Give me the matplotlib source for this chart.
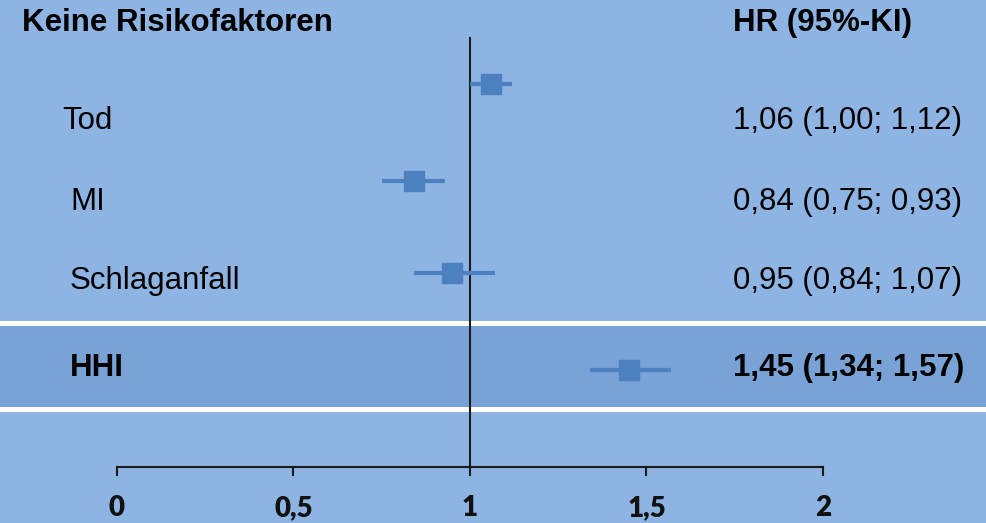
import matplotlib.pyplot as plt

# forest plot data
labels = ['Tod', 'MI', 'Schlaganfall', 'HHI']
hr = [1.06, 0.84, 0.95, 1.45]
ci_lo = [1.00, 0.75, 0.84, 1.34]
ci_hi = [1.12, 0.93, 1.07, 1.57]
ticks = [0, 0.5, 1, 1.5, 2]
tick_labels = ['0', '0,5', '1', '1,5', '2']

# row layout (pixel rows, top = 0)
marker_y = [84, 181, 273, 370]
text_y = [121, 202, 281, 368]
label_x = [62, 70, 70, 70]
bold = [False, False, False, True]

bg = '#8DB4E2'
band = '#79A2D6'
mark = '#4D80BF'

def fmt(v):
    return f'{v:.2f}'.replace('.', ',')

def px(x):
    return (x - 117) / 353

fig = plt.figure(figsize=(9.87, 5.23), dpi=100, facecolor=bg)
ax = fig.add_axes([0, 0, 1, 1])
ax.set_facecolor(bg)
ax.set_xlim(px(0), px(987))
ax.set_ylim(523, 0)
ax.axis('off')

# highlighted HHI band with white separators
ax.axhspan(325, 406, color=band, zorder=0)
ax.axhline(322.5, color='white', lw=3.6, zorder=1)
ax.axhline(408.5, color='white', lw=3.6, zorder=1)

# reference line at 1 and x axis
ax.plot([1, 1], [38, 467], color='#1a1a1a', lw=1.5, zorder=2)
ax.plot([0, 2], [467, 467], color='#1a1a1a', lw=1.5, zorder=2)
for t, tl in zip(ticks, tick_labels):
    ax.plot([t, t], [467, 475], color='#1a1a1a', lw=1.5, zorder=2)
    ax.text(t, 508, tl, ha='center', va='center', fontsize=20,
            fontweight='heavy', family='Lato', color='#111111')

for i in range(len(labels)):
    ax.plot([ci_lo[i], ci_hi[i]], [marker_y[i], marker_y[i]], color=mark,
            lw=3, solid_capstyle='butt', zorder=3)
    ax.plot(hr[i], marker_y[i], 's', color=mark, ms=15, zorder=4)
    w = 'bold' if bold[i] else 'normal'
    ax.text(px(label_x[i]), text_y[i], labels[i], ha='left', va='center',
            fontsize=22.5, fontweight=w, family='Liberation Sans', color='black')
    s = f'{fmt(hr[i])} ({fmt(ci_lo[i])}; {fmt(ci_hi[i])})'
    ax.text(px(733), text_y[i], s, ha='left', va='center',
            fontsize=22.5, fontweight=w, family='Liberation Sans', color='black')

ax.text(px(22), 23, 'Keine Risikofaktoren', ha='left', va='center',
        fontsize=22.5, fontweight='bold', family='Liberation Sans', color='black')
ax.text(px(733), 23, 'HR (95%-KI)', ha='left', va='center',
        fontsize=22.5, fontweight='bold', family='Liberation Sans', color='black')

fig.savefig('out.png', dpi=100, facecolor=bg)
